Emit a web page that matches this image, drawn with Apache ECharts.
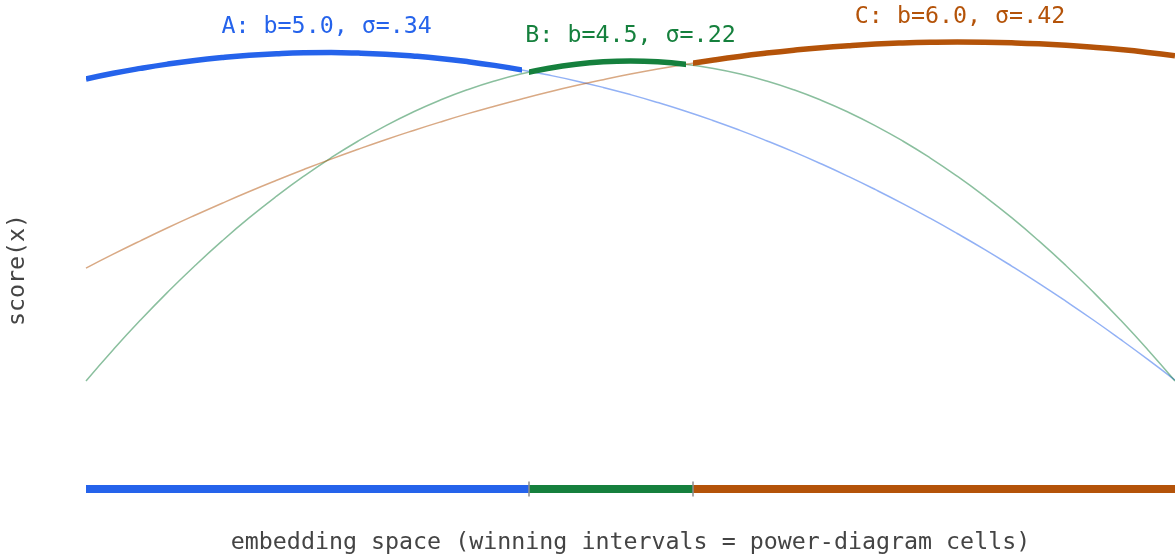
<!DOCTYPE html>
<html>
<head>
<meta charset="utf-8">
<script src="https://cdn.jsdelivr.net/npm/echarts@6/dist/echarts.min.js"></script>
<style>
  html, body { margin: 0; padding: 0; background: #ffffff; }
  #chart { width: 1175px; height: 555px; }
</style>
</head>
<body>
<div id="chart"></div>
<script>
// ---- data ----
const xs = [0, 0.025, 0.05, 0.075, 0.10, 0.125, 0.15, 0.175, 0.20, 0.225, 0.25,
            0.275, 0.30, 0.325, 0.35, 0.375, 0.40, 0.425, 0.45, 0.475, 0.50,
            0.525, 0.55, 0.575, 0.60, 0.625, 0.65, 0.675, 0.70, 0.725, 0.75,
            0.775, 0.80, 0.825, 0.85, 0.875, 0.90, 0.925, 0.95, 0.975, 1.00];
const scoreA = [4.210, 4.267, 4.316, 4.359, 4.395, 4.424, 4.447, 4.463, 4.472, 4.474, 4.469,
                4.458, 4.440, 4.416, 4.384, 4.346, 4.301, 4.249, 4.191, 4.126, 4.054,
                3.975, 3.890, 3.798, 3.699, 3.593, 3.481, 3.362, 3.236, 3.103, 2.964,
                2.818, 2.665, 2.506, 2.339, 2.166, 1.986, 1.800, 1.606, 1.406, 1.199];
const scoreB = [1.191, 1.503, 1.799, 2.079, 2.343, 2.591, 2.823, 3.038, 3.238, 3.422, 3.590,
                3.742, 3.878, 3.998, 4.102, 4.190, 4.262, 4.318, 4.358, 4.382, 4.390,
                4.382, 4.358, 4.318, 4.262, 4.190, 4.102, 3.998, 3.878, 3.742, 3.590,
                3.422, 3.238, 3.038, 2.823, 2.591, 2.343, 2.079, 1.799, 1.503, 1.191];
const scoreC = [2.319, 2.458, 2.592, 2.722, 2.847, 2.968, 3.085, 3.197, 3.305, 3.409, 3.508,
                3.603, 3.693, 3.779, 3.861, 3.938, 4.011, 4.080, 4.144, 4.203, 4.259,
                4.310, 4.356, 4.398, 4.436, 4.469, 4.498, 4.523, 4.543, 4.559, 4.570,
                4.577, 4.580, 4.578, 4.572, 4.562, 4.547, 4.527, 4.504, 4.476, 4.443];
const names = ['A', 'B', 'C'];
const bVals = ['5.0', '4.5', '6.0'];
const sigmas = ['.34', '.22', '.42'];
const peakX = [0.221, 0.5, 0.8026];
const peakScore = [4.474, 4.39, 4.58];
const winFrom = [0, 0.4071, 0.5571];
const winTo = [0.4007, 0.5507, 1];
const cellEdges = [0, 0.4068, 0.5574, 1];
const barLevel = 0.11;

const colors = ['#2563eb', '#15803d', '#b45309'];
const font = 'DejaVu Sans Mono';
const fontSize = 23.3;
const scores = [scoreA, scoreB, scoreC];

const pairs = arr => xs.map((x, i) => [x, arr[i]]);

const series = [];
// thin full curves
scores.forEach((s, i) => {
  series.push({
    type: 'line', data: pairs(s), smooth: true, showSymbol: false, silent: true,
    lineStyle: { color: colors[i], width: 1.5, opacity: 0.5 }, z: 2
  });
});
// thick winning segments (same data, coloured only where the curve wins)
scores.forEach((s, i) => {
  series.push({
    type: 'line', data: pairs(s), smooth: true, showSymbol: false, silent: true,
    lineStyle: { width: 5.5, cap: 'butt' }, z: 3
  });
});
// bottom bar of winning intervals
for (let i = 0; i < 3; i++) {
  series.push({
    type: 'line', data: [[cellEdges[i], barLevel], [cellEdges[i + 1], barLevel]],
    showSymbol: false, silent: true,
    lineStyle: { color: colors[i], width: 8, cap: 'butt' }, z: 3
  });
}
// ticks at cell boundaries
series.push({
  type: 'scatter', silent: true, z: 4,
  data: cellEdges.slice(1, -1).map(e => [e, barLevel]),
  symbol: 'rect', symbolSize: [1.5, 15],
  itemStyle: { color: '#8c8c8c', opacity: 1 }
});
// labels at peaks
for (let i = 0; i < 3; i++) {
  series.push({
    type: 'scatter', silent: true, z: 5,
    data: [[peakX[i], peakScore[i]]],
    symbolSize: 0,
    itemStyle: { opacity: 1 },
    label: {
      show: true, position: 'top', distance: 14, opacity: 1,
      formatter: names[i] + ': b=' + bVals[i] + ', σ=' + sigmas[i],
      color: colors[i], fontFamily: font, fontSize: fontSize
    }
  });
}

const visualMap = [0, 1, 2].map(i => ({
  type: 'piecewise', show: false, dimension: 0, seriesIndex: 3 + i,
  pieces: [{ gte: winFrom[i], lte: winTo[i], color: colors[i] }],
  outOfRange: { color: 'rgba(0,0,0,0)' }
}));

const chart = echarts.init(document.getElementById('chart'), null, { renderer: 'canvas' });
chart.setOption({
  animation: false,
  backgroundColor: '#ffffff',
  grid: { left: 86, right: 0, top: 0, bottom: 15, outerBoundsMode: 'none', containLabel: false },
  xAxis: {
    type: 'value', min: 0, max: 1,
    axisLine: { show: false }, axisTick: { show: false }, axisLabel: { show: false },
    splitLine: { show: false },
    name: 'embedding space (winning intervals = power-diagram cells)',
    nameLocation: 'middle', nameGap: -9,
    nameTextStyle: { color: '#444444', fontFamily: font, fontSize: fontSize }
  },
  yAxis: {
    type: 'value', min: -0.4, max: 5,
    axisLine: { show: false }, axisTick: { show: false }, axisLabel: { show: false },
    splitLine: { show: false },
    name: 'score(x)', nameLocation: 'middle', nameGap: 57,
    nameTextStyle: { color: '#444444', fontFamily: font, fontSize: fontSize }
  },
  visualMap: visualMap,
  series: series
});
</script>
</body>
</html>
